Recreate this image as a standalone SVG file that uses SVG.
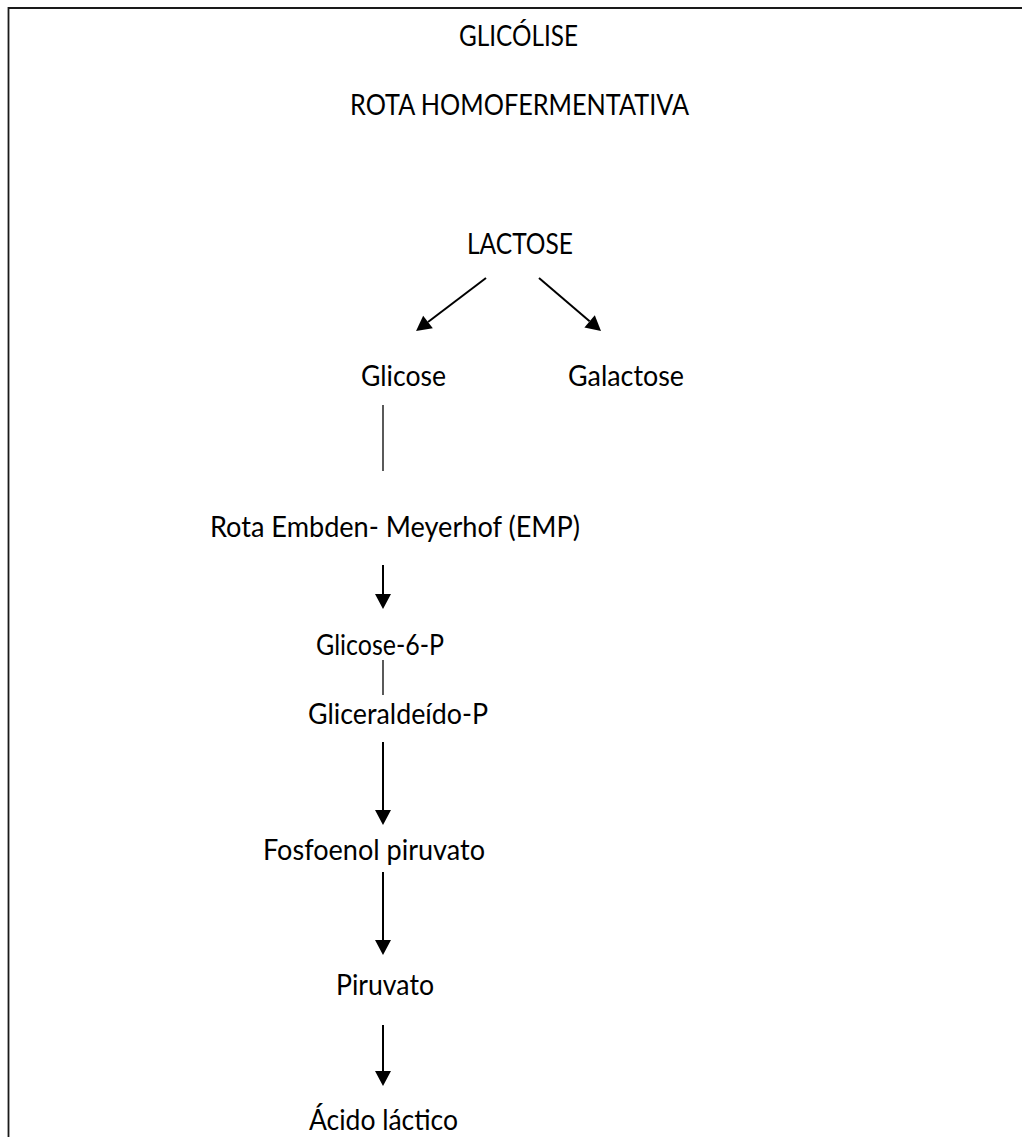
<svg xmlns="http://www.w3.org/2000/svg" width="1022" height="1137" viewBox="0 0 1022 1137">
<style>
text{font-family:Lato,"Open Sans","Liberation Sans",sans-serif;font-size:28px;fill:#000}
.arr{stroke:#000;stroke-width:2;fill:none;marker-end:url(#ah)}
.ln{stroke:#000;stroke-width:1.3;fill:none}
</style>
<defs>
<marker id="ah" markerUnits="userSpaceOnUse" markerWidth="16" markerHeight="16" refX="0" refY="8" orient="auto" viewBox="0 0 16 16" overflow="visible">
<path d="M0,0 L15,8 L0,16 z" fill="#000"/>
</marker>
</defs>
<rect width="1022" height="1137" fill="#fff"/>
<path d="M8.5,1137 V8 H1022" stroke="#1a1a1a" stroke-width="1.8" fill="none"/>
<g id="title1"><text x="459" y="46" textLength="119" lengthAdjust="spacingAndGlyphs">GLICÓLISE</text></g>
<g id="title2"><text x="350" y="115" textLength="339" lengthAdjust="spacingAndGlyphs">ROTA HOMOFERMENTATIVA</text></g>
<g id="lactose"><text x="467" y="254" textLength="106" lengthAdjust="spacingAndGlyphs">LACTOSE</text></g>
<g id="glicose"><text x="361" y="386" textLength="85" lengthAdjust="spacingAndGlyphs">Glicose</text></g>
<g id="galactose"><text x="568" y="386" textLength="116" lengthAdjust="spacingAndGlyphs">Galactose</text></g>
<g id="emp"><text x="210" y="537" textLength="370" lengthAdjust="spacingAndGlyphs">Rota Embden- Meyerhof (EMP)</text></g>
<g id="g6p"><text x="316" y="655" textLength="128" lengthAdjust="spacingAndGlyphs">Glicose-6-P</text></g>
<g id="gliceraldeido"><text x="308" y="724" textLength="180" lengthAdjust="spacingAndGlyphs">Gliceraldeído-P</text></g>
<g id="fosfoenol"><text x="263" y="860" textLength="222" lengthAdjust="spacingAndGlyphs">Fosfoenol piruvato</text></g>
<g id="piruvato"><text x="336" y="995" textLength="98" lengthAdjust="spacingAndGlyphs">Piruvato</text></g>
<g id="acido"><text x="309" y="1130" textLength="149" lengthAdjust="spacingAndGlyphs">Ácido láctico</text></g>
<g id="connectors">
<line class="arr" x1="486" y1="278" x2="428" y2="322"/>
<line class="arr" x1="539" y1="278" x2="589.6" y2="321.3"/>
<line class="ln" x1="383" y1="405" x2="383" y2="471"/>
<line class="arr" x1="383" y1="565" x2="383" y2="594"/>
<line class="ln" x1="383" y1="660" x2="383" y2="695"/>
<line class="arr" x1="383" y1="742" x2="383" y2="810"/>
<line class="arr" x1="383" y1="872" x2="383" y2="940"/>
<line class="arr" x1="383" y1="1025" x2="383" y2="1071"/>
</g>
</svg>
